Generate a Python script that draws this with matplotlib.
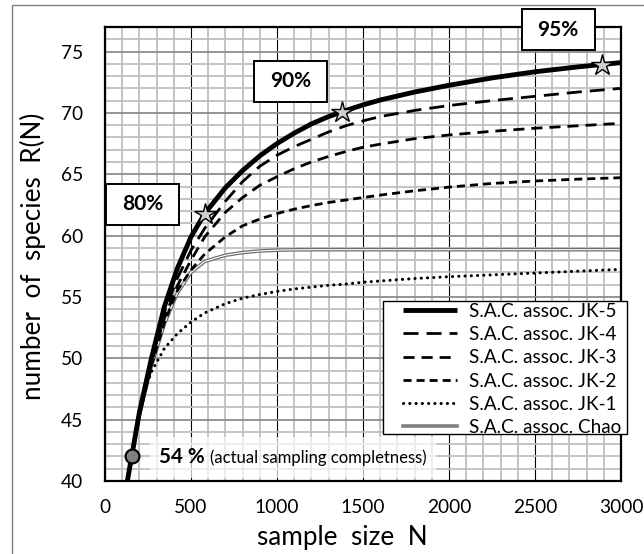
import matplotlib
matplotlib.use("Agg")
import matplotlib.pyplot as plt
from matplotlib.patches import Rectangle
from matplotlib.ticker import MultipleLocator

plt.rcParams['font.family'] = ['Lato', 'DejaVu Sans']

# sample size grid
sample_n = [130, 155, 200, 235, 270, 345, 420, 500, 580, 700, 800, 900, 1000,
            1100, 1200, 1300, 1400, 1500, 1600, 1800, 2000, 2250, 2500, 2750, 3000]

jk5 = [40.0, 42.0, 45.6, 47.8, 50.0, 54.2, 57.3, 59.9, 61.8, 63.9, 65.3, 66.5, 67.5,
       68.35, 69.1, 69.7, 70.2, 70.65, 71.05, 71.7, 72.25, 72.85, 73.35, 73.75, 74.1]
jk4 = [40.0, 42.0, 45.5, 47.7, 49.8, 53.7, 56.5, 58.8, 60.6, 62.8, 64.4, 65.65, 66.55,
       67.25, 67.85, 68.45, 68.95, 69.35, 69.7, 70.2, 70.6, 71.0, 71.35, 71.7, 72.0]
jk3 = [40.0, 42.0, 45.4, 47.5, 49.6, 53.3, 55.9, 58.0, 59.9, 61.9, 63.1, 64.1, 64.8,
       65.45, 66.0, 66.45, 66.85, 67.2, 67.45, 67.9, 68.2, 68.5, 68.75, 68.95, 69.15]
jk2 = [40.0, 42.0, 45.3, 47.4, 49.4, 52.9, 55.5, 57.2, 58.5, 59.9, 60.8, 61.35, 61.8,
       62.15, 62.45, 62.7, 62.9, 63.1, 63.3, 63.65, 63.95, 64.25, 64.45, 64.6, 64.72]
jk1 = [40.0, 42.0, 45.6, 47.5, 48.9, 50.8, 52.0, 52.95, 53.7, 54.45, 54.9, 55.2, 55.45,
       55.65, 55.8, 55.95, 56.05, 56.2, 56.3, 56.5, 56.65, 56.8, 56.95, 57.1, 57.25]
chao = [40.0, 42.0, 45.4, 47.4, 49.4, 52.8, 55.3, 57.0, 57.9, 58.4, 58.62, 58.75, 58.81,
        58.84, 58.85, 58.85, 58.85, 58.85, 58.85, 58.85, 58.85, 58.85, 58.85, 58.85, 58.85]

# completeness markers on the JK-5 curve
star_n = [580, 1380, 2888]
star_r = [61.8, 70.1, 73.94]
star_labels = ["80%", "90%", "95%"]
actual_n = 155
actual_r = 42.0

names = ["S.A.C. assoc. JK-5", "S.A.C. assoc. JK-4", "S.A.C. assoc. JK-3",
         "S.A.C. assoc. JK-2", "S.A.C. assoc. JK-1", "S.A.C. assoc. Chao"]

fig = plt.figure(figsize=(6.44, 5.54), dpi=100)
ax = fig.add_axes([105/644, 73/554, 516/644, 454/554])

# outer chart frame
fig.add_artist(Rectangle((12/644, -0.5), 2, 0.5 + 1 - 5/554, transform=fig.transFigure,
                         fill=False, edgecolor='#808080', lw=1.0))

ax.set_xlim(0, 3000)
ax.set_ylim(40, 77)
ax.xaxis.set_major_locator(MultipleLocator(500))
ax.xaxis.set_minor_locator(MultipleLocator(100))
ax.yaxis.set_major_locator(MultipleLocator(5))
ax.yaxis.set_minor_locator(MultipleLocator(1))
ax.set_axisbelow(True)
ax.grid(which='minor', color='#bfbfbf', lw=1.3)
ax.grid(which='major', axis='y', color='#8c8c8c', lw=1.3)
ax.grid(which='major', axis='x', color='black', lw=0.8)
ax.tick_params(which='both', length=0, labelsize=13.8)
ax.tick_params(axis='x', pad=13)
ax.tick_params(axis='y', pad=16)
for s in ax.spines.values():
    s.set_linewidth(1.6)

# white-ish background behind the annotation
ax.add_patch(Rectangle((262, 40.25), 1660, 3.35, facecolor='white', alpha=0.7,
                       edgecolor='none', zorder=1.5))

styles = {
    'jk5': dict(color='black', lw=3.5, solid_capstyle='butt'),
    'jk4': dict(color='black', lw=2, linestyle=(0, (5.4, 2.9))),
    'jk3': dict(color='black', lw=2, linestyle=(0, (4.0, 2.5))),
    'jk2': dict(color='black', lw=2, linestyle=(0, (2.9, 1.8))),
    'jk1': dict(color='black', lw=2.2, linestyle=(0, (0.05, 2.0)), dash_capstyle='round'),
}

ax.plot(sample_n, chao, color='#6e6e6e', lw=2.6, zorder=2)
ax.plot(sample_n, chao, color='white', lw=0.8, zorder=2.1)
ax.plot(sample_n, jk1, zorder=3, **styles['jk1'])
ax.plot(sample_n, jk2, zorder=3, **styles['jk2'])
ax.plot(sample_n, jk3, zorder=3, **styles['jk3'])
ax.plot(sample_n, jk4, zorder=3, **styles['jk4'])
ax.plot(sample_n, jk5, zorder=4, **styles['jk5'])

ax.plot(star_n, star_r, linestyle='none', marker='*', markersize=16,
        markerfacecolor='#cfcfcf', markeredgecolor='black', markeredgewidth=1, zorder=5)
ax.plot([actual_n], [actual_r], linestyle='none', marker='o', markersize=10,
        markerfacecolor='#808080', markeredgecolor='black', markeredgewidth=1.5, zorder=5)

# percentage boxes
box_pos = [(218, 62.54), (1081, 72.57), (2634, 76.79)]
bw, bh = 73 * 3000 / 516, 41 * 37 / 454
for (cx, cy), lab in zip(box_pos, star_labels):
    ax.add_patch(Rectangle((cx - bw/2, cy - bh/2), bw, bh, facecolor='white',
                           edgecolor='black', lw=1.4, zorder=6, clip_on=False))
    ax.text(cx, cy, lab, ha='center', va='center', fontsize=15, fontweight='bold',
            zorder=7, clip_on=False)

ax.text(314, 41.45, "54 %", fontsize=14.8, fontweight='bold', va='baseline', zorder=7)
ax.text(610, 41.45, "(actual sampling completness)", fontsize=12, va='baseline', zorder=7)

# legend: frame drawn separately so the padding matches
ax.add_patch(Rectangle((0.5388, 0.1035), 0.4728, 0.293, transform=ax.transAxes,
                       facecolor='white', edgecolor='black', lw=1.0, zorder=8,
                       clip_on=False))
handles = [plt.Line2D([], [], **styles[k]) for k in ['jk5', 'jk4', 'jk3', 'jk2', 'jk1']]
handles.append(plt.Line2D([], [], color='#808080', lw=2.6))
leg = ax.legend(handles, names, loc='upper left', bbox_to_anchor=(0.5775, 0.3925),
                borderaxespad=0, borderpad=0, fontsize=13.6, handlelength=2.86,
                handletextpad=0.63, labelspacing=0.33, frameon=False)
leg.set_zorder(9)

fig.text(342/644, 1 - 538/554, "sample  size  N", ha='center', va='center', fontsize=18.8)
fig.text(33/644, 1 - 256.5/554, "number  of  species  R(N)", ha='center', va='center',
         rotation=90, fontsize=18.8)

fig.savefig("out.png", dpi=100)
